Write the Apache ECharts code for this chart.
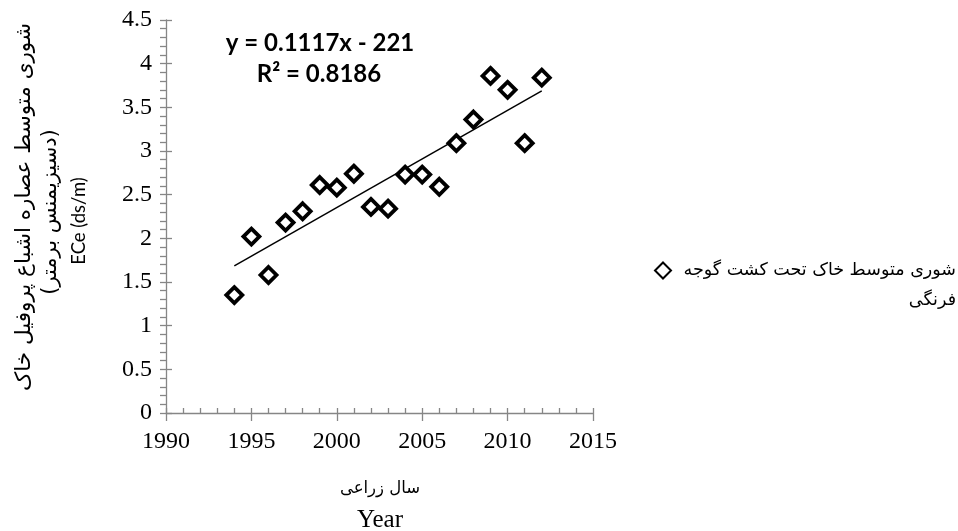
<!DOCTYPE html>
<html><head><meta charset="utf-8">
<script src="https://cdn.jsdelivr.net/npm/echarts@6/dist/echarts.min.js"></script>
<style>html,body{margin:0;padding:0;background:#fff}#c{width:958px;height:531px}</style>
</head><body><div id="c"></div>
<script>
var years = [1994,1995,1996,1997,1998,1999,2000,2001,2002,2003,2004,2005,2006,2007,2008,2009,2010,2011,2012];
var ece = [1.35,2.02,1.58,2.18,2.31,2.61,2.58,2.74,2.36,2.34,2.73,2.73,2.59,3.09,3.36,3.86,3.70,3.09,3.84];
var seriesName = 'شوری متوسط خاک تحت کشت گوجه فرنگی';
var legendLine1 = 'شوری متوسط خاک تحت کشت گوجه';
var legendLine2 = 'فرنگی';
var yTitle = ['شوری متوسط عصاره اشباع پروفیل خاک', '(دسیزیمنس برمتر)', 'ECe (ds/m)'];
var xTitleFa = 'سال زراعی';
var xTitleEn = 'Year';
var eqLine1 = 'y = 0.1117x - 221';
var eqLine2 = 'R² = 0.8186';

// linear regression trendline from data
var n = years.length, sx=0, sy=0, sxx=0, sxy=0;
for (var i=0;i<n;i++){sx+=years[i];sy+=ece[i];sxx+=years[i]*years[i];sxy+=years[i]*ece[i];}
var slope=(n*sxy-sx*sy)/(n*sxx-sx*sx), icpt=(sy-slope*sx)/n;
var x0=years[0], x1=years[n-1];
var trend=[[x0, slope*x0+icpt],[x1, slope*x1+icpt]];

var axisColor = '#868686';
var chart = echarts.init(document.getElementById('c'));
chart.setOption({
  animation:false,
  grid:{left:166,right:365,top:20,bottom:118},
  xAxis:[{
    type:'value',min:1990,max:2015,interval:5,
    axisLine:{lineStyle:{color:axisColor,width:1.3}},
    axisTick:{show:true,length:8,lineStyle:{color:axisColor,width:1.3}},
    axisLabel:{color:'#000',fontFamily:'Liberation Serif',fontSize:24,margin:17,formatter:function(v){return String(v);}},
    splitLine:{show:false}
  },{
    type:'value',min:1990,max:2015,interval:1,position:'bottom',
    axisLine:{show:false},
    axisTick:{show:true,inside:true,length:5,lineStyle:{color:axisColor,width:1.3}},
    axisLabel:{show:false},splitLine:{show:false}
  }],
  yAxis:[{
    type:'value',min:0,max:4.5,interval:0.5,
    axisLine:{show:true,lineStyle:{color:axisColor,width:1.3}},
    axisTick:{show:true,length:6,lineStyle:{color:axisColor,width:1.3}},
    minorTick:{show:true,splitNumber:5,length:6,lineStyle:{color:axisColor,width:1.3}},
    axisLabel:{color:'#000',fontFamily:'Liberation Serif',fontSize:24,margin:14},
    splitLine:{show:false}
  },{
    type:'value',min:0,max:4.5,interval:0.5,position:'left',
    axisLine:{show:false},
    axisTick:{show:true,inside:true,length:6,lineStyle:{color:axisColor,width:1.3}},
    axisLabel:{show:false},splitLine:{show:false}
  }],
  legend:{
    data:[seriesName],left:654,top:232,padding:0,
    itemWidth:16,itemHeight:16,itemGap:0,
    formatter:function(){return '{e| }\n{a|'+legendLine1+'}\n{a|'+legendLine2+'}';},
    textStyle:{rich:{
      a:{fontFamily:'DejaVu Sans',fontSize:17.5,color:'#000',width:280,align:'right',lineHeight:30},
      e:{fontSize:17,lineHeight:30}
    }}
  },
  series:[{
    name:seriesName,type:'scatter',
    data:years.map(function(y,i){return [y,ece[i]];}),
    symbol:'diamond',symbolSize:16,
    itemStyle:{color:'#fff',borderColor:'#000',borderWidth:3.8,opacity:1},
    z:3
  },{
    name:'trend',type:'line',data:trend,showSymbol:false,symbol:'none',
    lineStyle:{color:'#000',width:1.5},silent:true,z:2
  }],
  graphic:[
    {type:'text',x:320,y:43,style:{text:eqLine1,fontFamily:'Lato',fontWeight:'bold',fontSize:24,fill:'#000',textAlign:'center',textVerticalAlign:'middle'}},
    {type:'text',x:319,y:74,style:{text:eqLine2,fontFamily:'Lato',fontWeight:'bold',fontSize:24,fill:'#000',textAlign:'center',textVerticalAlign:'middle'}},
    {type:'text',x:380,y:489,style:{text:xTitleFa,fontFamily:'DejaVu Sans',fontSize:16.5,fill:'#000',textAlign:'center',textVerticalAlign:'middle'}},
    {type:'text',x:380,y:520,style:{text:xTitleEn,fontFamily:'Liberation Serif',fontSize:25,fill:'#000',textAlign:'center',textVerticalAlign:'middle'}},
    {type:'text',x:24,y:207,rotation:Math.PI/2,style:{text:yTitle[0],fontFamily:'DejaVu Sans',fontSize:21.5,fill:'#000',textAlign:'center',textVerticalAlign:'middle'}},
    {type:'text',x:51,y:212,rotation:Math.PI/2,style:{text:yTitle[1],fontFamily:'DejaVu Sans',fontSize:21,fill:'#000',textAlign:'center',textVerticalAlign:'middle'}},
    {type:'text',x:79,y:221,rotation:Math.PI/2,style:{text:yTitle[2],fontFamily:'Lato',fontSize:18.5,fill:'#000',textAlign:'center',textVerticalAlign:'middle'}}
  ]
});
</script></body></html>
